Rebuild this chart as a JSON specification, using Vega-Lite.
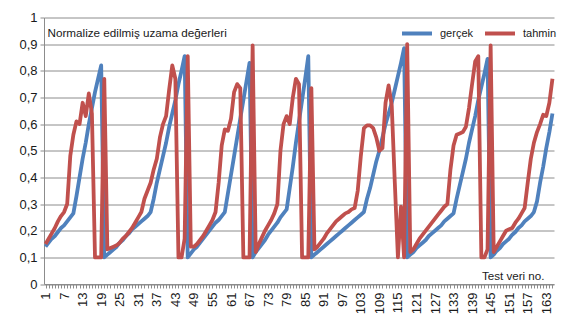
{
  "$schema": "https://vega.github.io/schema/vega-lite/v6.json",
  "width": 510,
  "height": 266.5,
  "autosize": {"type": "none"},
  "padding": {"left": 44, "top": 17.5, "right": 12, "bottom": 47},
  "background": "white",
  "config": {
    "view": {"stroke": null},
    "font": "Liberation Sans",
    "axis": {"labelColor": "#1a1a1a", "titleColor": "#1a1a1a", "titleFontWeight": "normal"}
  },
  "data": {
    "values": [
      {"no": 1, "gerçek": 0.14, "tahmin": 0.15},
      {"no": 2, "gerçek": 0.155, "tahmin": 0.17},
      {"no": 3, "gerçek": 0.17, "tahmin": 0.19},
      {"no": 4, "gerçek": 0.18, "tahmin": 0.21},
      {"no": 5, "gerçek": 0.195, "tahmin": 0.235},
      {"no": 6, "gerçek": 0.21, "tahmin": 0.255},
      {"no": 7, "gerçek": 0.22, "tahmin": 0.27},
      {"no": 8, "gerçek": 0.235, "tahmin": 0.3},
      {"no": 9, "gerçek": 0.25, "tahmin": 0.48},
      {"no": 10, "gerçek": 0.265, "tahmin": 0.56},
      {"no": 11, "gerçek": 0.33, "tahmin": 0.61},
      {"no": 12, "gerçek": 0.4, "tahmin": 0.6},
      {"no": 13, "gerçek": 0.47, "tahmin": 0.68},
      {"no": 14, "gerçek": 0.53, "tahmin": 0.63},
      {"no": 15, "gerçek": 0.6, "tahmin": 0.715},
      {"no": 16, "gerçek": 0.66, "tahmin": 0.64},
      {"no": 17, "gerçek": 0.72, "tahmin": 0.1},
      {"no": 18, "gerçek": 0.77, "tahmin": 0.1},
      {"no": 19, "gerçek": 0.82, "tahmin": 0.1},
      {"no": 20, "gerçek": 0.1, "tahmin": 0.77},
      {"no": 21, "gerçek": 0.11, "tahmin": 0.13},
      {"no": 22, "gerçek": 0.12, "tahmin": 0.135},
      {"no": 23, "gerçek": 0.13, "tahmin": 0.14},
      {"no": 24, "gerçek": 0.14, "tahmin": 0.145},
      {"no": 25, "gerçek": 0.155, "tahmin": 0.155},
      {"no": 26, "gerçek": 0.165, "tahmin": 0.17},
      {"no": 27, "gerçek": 0.18, "tahmin": 0.18},
      {"no": 28, "gerçek": 0.19, "tahmin": 0.195},
      {"no": 29, "gerçek": 0.205, "tahmin": 0.21},
      {"no": 30, "gerçek": 0.215, "tahmin": 0.23},
      {"no": 31, "gerçek": 0.225, "tahmin": 0.25},
      {"no": 32, "gerçek": 0.235, "tahmin": 0.27},
      {"no": 33, "gerçek": 0.245, "tahmin": 0.32},
      {"no": 34, "gerçek": 0.255, "tahmin": 0.35},
      {"no": 35, "gerçek": 0.27, "tahmin": 0.38},
      {"no": 36, "gerçek": 0.32, "tahmin": 0.43},
      {"no": 37, "gerçek": 0.38, "tahmin": 0.47},
      {"no": 38, "gerçek": 0.43, "tahmin": 0.55},
      {"no": 39, "gerçek": 0.48, "tahmin": 0.6},
      {"no": 40, "gerçek": 0.53, "tahmin": 0.63},
      {"no": 41, "gerçek": 0.59, "tahmin": 0.73},
      {"no": 42, "gerçek": 0.64, "tahmin": 0.82},
      {"no": 43, "gerçek": 0.69, "tahmin": 0.77},
      {"no": 44, "gerçek": 0.75, "tahmin": 0.1},
      {"no": 45, "gerçek": 0.8, "tahmin": 0.1},
      {"no": 46, "gerçek": 0.855, "tahmin": 0.17},
      {"no": 47, "gerçek": 0.1, "tahmin": 0.855},
      {"no": 48, "gerçek": 0.115, "tahmin": 0.14},
      {"no": 49, "gerçek": 0.13, "tahmin": 0.14},
      {"no": 50, "gerçek": 0.14, "tahmin": 0.15},
      {"no": 51, "gerçek": 0.155, "tahmin": 0.165},
      {"no": 52, "gerçek": 0.17, "tahmin": 0.18},
      {"no": 53, "gerçek": 0.185, "tahmin": 0.2},
      {"no": 54, "gerçek": 0.2, "tahmin": 0.22},
      {"no": 55, "gerçek": 0.215, "tahmin": 0.24},
      {"no": 56, "gerçek": 0.23, "tahmin": 0.27},
      {"no": 57, "gerçek": 0.24, "tahmin": 0.38},
      {"no": 58, "gerçek": 0.255, "tahmin": 0.52},
      {"no": 59, "gerçek": 0.27, "tahmin": 0.58},
      {"no": 60, "gerçek": 0.34, "tahmin": 0.575},
      {"no": 61, "gerçek": 0.41, "tahmin": 0.62},
      {"no": 62, "gerçek": 0.48, "tahmin": 0.72},
      {"no": 63, "gerçek": 0.55, "tahmin": 0.75},
      {"no": 64, "gerçek": 0.62, "tahmin": 0.735},
      {"no": 65, "gerçek": 0.69, "tahmin": 0.1},
      {"no": 66, "gerçek": 0.76, "tahmin": 0.1},
      {"no": 67, "gerçek": 0.83, "tahmin": 0.1},
      {"no": 68, "gerçek": 0.1, "tahmin": 0.895},
      {"no": 69, "gerçek": 0.12, "tahmin": 0.12},
      {"no": 70, "gerçek": 0.135, "tahmin": 0.15},
      {"no": 71, "gerçek": 0.15, "tahmin": 0.175},
      {"no": 72, "gerçek": 0.165, "tahmin": 0.2},
      {"no": 73, "gerçek": 0.185, "tahmin": 0.22},
      {"no": 74, "gerçek": 0.2, "tahmin": 0.24},
      {"no": 75, "gerçek": 0.215, "tahmin": 0.265},
      {"no": 76, "gerçek": 0.23, "tahmin": 0.3},
      {"no": 77, "gerçek": 0.25, "tahmin": 0.5},
      {"no": 78, "gerçek": 0.265, "tahmin": 0.6},
      {"no": 79, "gerçek": 0.28, "tahmin": 0.63},
      {"no": 80, "gerçek": 0.36, "tahmin": 0.6},
      {"no": 81, "gerçek": 0.44, "tahmin": 0.7},
      {"no": 82, "gerçek": 0.53, "tahmin": 0.77},
      {"no": 83, "gerçek": 0.61, "tahmin": 0.75},
      {"no": 84, "gerçek": 0.69, "tahmin": 0.1},
      {"no": 85, "gerçek": 0.77, "tahmin": 0.1},
      {"no": 86, "gerçek": 0.855, "tahmin": 0.1},
      {"no": 87, "gerçek": 0.1, "tahmin": 0.735},
      {"no": 88, "gerçek": 0.11, "tahmin": 0.13},
      {"no": 89, "gerçek": 0.12, "tahmin": 0.14},
      {"no": 90, "gerçek": 0.13, "tahmin": 0.155},
      {"no": 91, "gerçek": 0.14, "tahmin": 0.17},
      {"no": 92, "gerçek": 0.15, "tahmin": 0.19},
      {"no": 93, "gerçek": 0.16, "tahmin": 0.205},
      {"no": 94, "gerçek": 0.17, "tahmin": 0.22},
      {"no": 95, "gerçek": 0.18, "tahmin": 0.235},
      {"no": 96, "gerçek": 0.19, "tahmin": 0.245},
      {"no": 97, "gerçek": 0.2, "tahmin": 0.255},
      {"no": 98, "gerçek": 0.21, "tahmin": 0.265},
      {"no": 99, "gerçek": 0.22, "tahmin": 0.27},
      {"no": 100, "gerçek": 0.23, "tahmin": 0.28},
      {"no": 101, "gerçek": 0.24, "tahmin": 0.285},
      {"no": 102, "gerçek": 0.25, "tahmin": 0.35},
      {"no": 103, "gerçek": 0.26, "tahmin": 0.48},
      {"no": 104, "gerçek": 0.27, "tahmin": 0.585},
      {"no": 105, "gerçek": 0.32, "tahmin": 0.595},
      {"no": 106, "gerçek": 0.36, "tahmin": 0.595},
      {"no": 107, "gerçek": 0.41, "tahmin": 0.585},
      {"no": 108, "gerçek": 0.46, "tahmin": 0.55},
      {"no": 109, "gerçek": 0.5, "tahmin": 0.5},
      {"no": 110, "gerçek": 0.55, "tahmin": 0.51},
      {"no": 111, "gerçek": 0.6, "tahmin": 0.68},
      {"no": 112, "gerçek": 0.64, "tahmin": 0.745},
      {"no": 113, "gerçek": 0.68, "tahmin": 0.67},
      {"no": 114, "gerçek": 0.73, "tahmin": 0.38},
      {"no": 115, "gerçek": 0.78, "tahmin": 0.1},
      {"no": 116, "gerçek": 0.83, "tahmin": 0.29},
      {"no": 117, "gerçek": 0.885, "tahmin": 0.1},
      {"no": 118, "gerçek": 0.1, "tahmin": 0.9},
      {"no": 119, "gerçek": 0.11, "tahmin": 0.12},
      {"no": 120, "gerçek": 0.12, "tahmin": 0.13},
      {"no": 121, "gerçek": 0.135, "tahmin": 0.15},
      {"no": 122, "gerçek": 0.145, "tahmin": 0.17},
      {"no": 123, "gerçek": 0.155, "tahmin": 0.185},
      {"no": 124, "gerçek": 0.165, "tahmin": 0.2},
      {"no": 125, "gerçek": 0.18, "tahmin": 0.215},
      {"no": 126, "gerçek": 0.19, "tahmin": 0.23},
      {"no": 127, "gerçek": 0.2, "tahmin": 0.245},
      {"no": 128, "gerçek": 0.21, "tahmin": 0.26},
      {"no": 129, "gerçek": 0.22, "tahmin": 0.275},
      {"no": 130, "gerçek": 0.235, "tahmin": 0.29},
      {"no": 131, "gerçek": 0.245, "tahmin": 0.3},
      {"no": 132, "gerçek": 0.255, "tahmin": 0.43},
      {"no": 133, "gerçek": 0.265, "tahmin": 0.52},
      {"no": 134, "gerçek": 0.32, "tahmin": 0.56},
      {"no": 135, "gerçek": 0.37, "tahmin": 0.565},
      {"no": 136, "gerçek": 0.42, "tahmin": 0.57},
      {"no": 137, "gerçek": 0.47, "tahmin": 0.59},
      {"no": 138, "gerçek": 0.53, "tahmin": 0.66},
      {"no": 139, "gerçek": 0.58, "tahmin": 0.75},
      {"no": 140, "gerçek": 0.63, "tahmin": 0.835},
      {"no": 141, "gerçek": 0.69, "tahmin": 0.855},
      {"no": 142, "gerçek": 0.74, "tahmin": 0.1},
      {"no": 143, "gerçek": 0.79, "tahmin": 0.1},
      {"no": 144, "gerçek": 0.845, "tahmin": 0.13},
      {"no": 145, "gerçek": 0.1, "tahmin": 0.895},
      {"no": 146, "gerçek": 0.11, "tahmin": 0.12},
      {"no": 147, "gerçek": 0.125, "tahmin": 0.14},
      {"no": 148, "gerçek": 0.135, "tahmin": 0.16},
      {"no": 149, "gerçek": 0.15, "tahmin": 0.18},
      {"no": 150, "gerçek": 0.16, "tahmin": 0.2},
      {"no": 151, "gerçek": 0.17, "tahmin": 0.205},
      {"no": 152, "gerçek": 0.185, "tahmin": 0.21},
      {"no": 153, "gerçek": 0.195, "tahmin": 0.23},
      {"no": 154, "gerçek": 0.21, "tahmin": 0.245},
      {"no": 155, "gerçek": 0.22, "tahmin": 0.265},
      {"no": 156, "gerçek": 0.235, "tahmin": 0.285},
      {"no": 157, "gerçek": 0.245, "tahmin": 0.38},
      {"no": 158, "gerçek": 0.255, "tahmin": 0.47},
      {"no": 159, "gerçek": 0.27, "tahmin": 0.53},
      {"no": 160, "gerçek": 0.31, "tahmin": 0.57},
      {"no": 161, "gerçek": 0.38, "tahmin": 0.6},
      {"no": 162, "gerçek": 0.44, "tahmin": 0.635},
      {"no": 163, "gerçek": 0.51, "tahmin": 0.63},
      {"no": 164, "gerçek": 0.57, "tahmin": 0.68},
      {"no": 165, "gerçek": 0.64, "tahmin": 0.77}
    ]
  },
  "transform": [{"fold": ["gerçek", "tahmin"], "as": ["seri", "deger"]}],
  "mark": {"type": "line", "strokeWidth": 3.8, "strokeJoin": "round"},
  "encoding": {
    "x": {
      "field": "no",
      "type": "quantitative",
      "scale": {"domain": [0.5, 165.5], "nice": false, "zero": false},
      "axis": {
        "tickCount": 165,
        "labelExpr": "(datum.value - 1) % 6 == 0 ? toString(datum.value) : ''",
        "labelAngle": -90,
        "labelOverlap": false,
        "labelFontSize": 13,
        "labelPadding": 4,
        "tickSize": 4,
        "tickColor": "#8c8c8c",
        "domainColor": "#8c8c8c",
        "grid": false,
        "title": "Test veri no.",
        "titleFontSize": 11.6,
        "titleX": 500,
        "titleY": -5,
        "titleAlign": "right",
        "titleBaseline": "alphabetic"
      }
    },
    "y": {
      "field": "deger",
      "type": "quantitative",
      "scale": {"domain": [0, 1], "nice": false},
      "axis": {
        "values": [0, 0.1, 0.2, 0.3, 0.4, 0.5, 0.6, 0.7, 0.8, 0.9, 1],
        "labelExpr": "datum.value == 0 ? '0' : datum.value == 1 ? '1' : replace(format(datum.value, '.1f'), '.', ',')",
        "labelFontSize": 13,
        "labelPadding": 3,
        "tickSize": 4,
        "tickColor": "#8c8c8c",
        "domainColor": "#8c8c8c",
        "grid": true,
        "gridColor": "#8c8c8c",
        "title": "Normalize edilmiş uzama değerleri",
        "titleFontSize": 11.7,
        "titleAngle": 0,
        "titleX": 3,
        "titleY": 18.5,
        "titleAlign": "left",
        "titleBaseline": "alphabetic"
      }
    },
    "color": {
      "field": "seri",
      "type": "nominal",
      "scale": {"domain": ["gerçek", "tahmin"], "range": ["#4F81BD", "#C0504D"]},
      "legend": {
        "orient": "none",
        "legendX": 356,
        "legendY": -1,
        "direction": "horizontal",
        "title": null,
        "symbolType": "stroke",
        "symbolSize": 900,
        "symbolStrokeWidth": 4,
        "labelFontSize": 11,
        "labelColor": "#1a1a1a",
        "labelOffset": 6,
        "columnPadding": 3,
        "padding": 0
      }
    }
  }
}
